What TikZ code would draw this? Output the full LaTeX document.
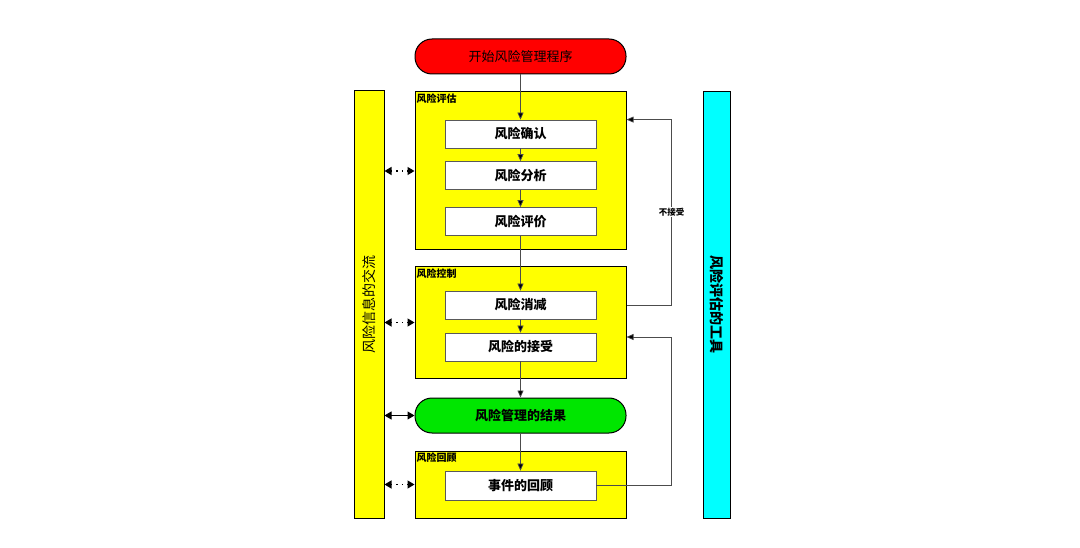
\documentclass[tikz,border=0pt]{standalone}
\usepackage{fontspec}
\setmainfont{Noto Sans CJK SC}
\usetikzlibrary{arrows.meta}

\definecolor{boxyellow}{RGB}{255,255,0}
\definecolor{startred}{RGB}{255,0,0}
\definecolor{resultgreen}{RGB}{0,230,0}
\definecolor{toolcyan}{RGB}{0,255,255}

\tikzset{
  phasebox/.style={draw=black, line width=1pt, fill=boxyellow, minimum width=211pt, inner sep=0pt},
  stepbox/.style={draw=gray!70!black, line width=0.8pt, fill=white, minimum width=151pt, minimum height=28pt, inner sep=0pt, font=\bfseries\fontsize{13}{15}\selectfont},
  pill/.style={draw=black, line width=1pt, rounded corners=17pt, minimum width=211pt, minimum height=35pt, inner sep=0pt, font=\fontsize{13}{15}\selectfont},
  sidebar/.style={draw=black, line width=1pt, minimum height=427pt, inner sep=0pt},
  phaselabel/.style={anchor=north west, inner sep=2pt, font=\bfseries\fontsize{10}{12}\selectfont},
  link/.style={draw=gray!60!black, line width=0.7pt, -{Triangle[length=7pt,width=6pt,fill=black]}},
  dotlink/.style={draw=black, line width=1.3pt, dash pattern=on 1.3pt off 4pt, {Triangle[length=7pt,width=8pt]}-{Triangle[length=7pt,width=8pt]}},
  sharedlink/.style={draw=black, line width=1pt, {Triangle[length=7pt,width=8pt]}-{Triangle[length=7pt,width=8pt]}}
}

\begin{document}
\begin{tikzpicture}[x=1pt, y=-1pt]
  \useasboundingbox (0,0) rectangle (1080,548);

  % Start and result
  \node[pill, fill=startred] (start) at (520.5,56.5) {开始风险管理程序};
  \node[pill, fill=resultgreen] (result) at (520.5,415.5) {\bfseries 风险管理的结果};

  % Phase boxes
  \node[phasebox, minimum height=158pt] (assess) at (520.5,171) {};
  \node[phaselabel] at (assess.north west) {风险评估};
  \node[phasebox, minimum height=111pt] (control) at (520.5,322.5) {};
  \node[phaselabel] at (control.north west) {风险控制};
  \node[phasebox, minimum height=67pt] (review) at (520.5,484.5) {};
  \node[phaselabel] at (review.north west) {风险回顾};

  % Steps
  \node[stepbox] (ident) at (520.5,134) {风险确认};
  \node[stepbox] (analyse) at (520.5,175.5) {风险分析};
  \node[stepbox] (evaluate) at (520.5,221.5) {风险评价};
  \node[stepbox] (reduce) at (520.5,305) {风险消减};
  \node[stepbox] (accept) at (520.5,347) {风险的接受};
  \node[stepbox, minimum height=29pt] (event) at (520.5,485.5) {事件的回顾};

  % Side bars
  \node[sidebar, fill=boxyellow, minimum width=30pt] (comm) at (369,304.5) {};
  \node[rotate=90, font=\fontsize{14}{16}\selectfont] at (comm) {风险信息的交流};
  \node[sidebar, fill=toolcyan, minimum width=27pt] (tools) at (716.5,305) {};
  \node[rotate=-90, font=\bfseries\fontsize{14}{16}\selectfont] at (tools) {风险评估的工具};

  % Main flow
  \draw[link] (start) -- (ident);
  \draw[link] (ident) -- (analyse);
  \draw[link] (analyse) -- (evaluate);
  \draw[link] (evaluate) -- (reduce);
  \draw[link] (reduce) -- (accept);
  \draw[link] (accept) -- (result);
  \draw[link] (result) -- (event);

  % Feedback loops
  \draw[link] (control.east |- reduce) -- ++(45,0)
    |- node[pos=0.25, fill=white, inner sep=1pt, font=\bfseries\fontsize{8.5}{10}\selectfont] {不接受}
    (assess.east |- ident.north);
  \draw[link] (event.east) -- ++(75,0) |- ([yshift=-14.5pt]control.east);

  % Communication
  \draw[dotlink] (comm.east |- assess.west) -- (assess.west);
  \draw[dotlink] (comm.east |- control.west) -- (control.west);
  \draw[sharedlink] (comm.east |- result.west) -- (result.west);
  \draw[dotlink] (comm.east |- review.west) -- (review.west);

\end{tikzpicture}
\end{document}
